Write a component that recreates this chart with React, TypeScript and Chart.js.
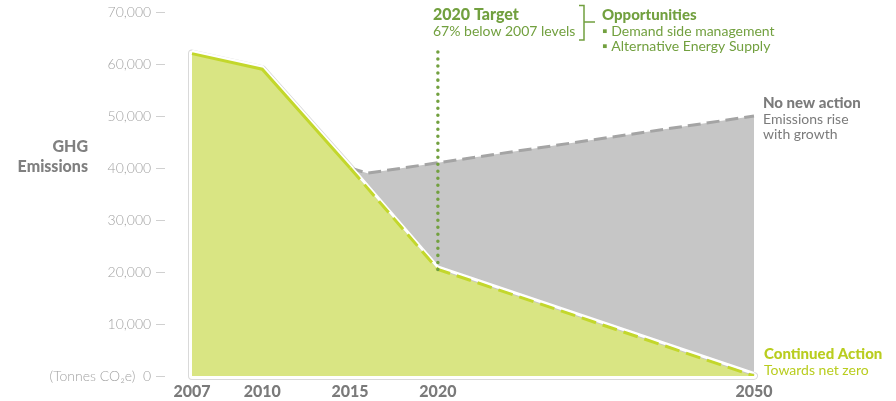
import React, { useEffect, useRef } from 'react';
import { Chart, registerables } from 'chart.js';

Chart.register(...registerables);

// x slots: key years with spacer slots between them (designer's uneven spacing)
const xSlots = [
  '2007', '', '', '',
  '2010', '', '', '', '',
  '2015', '', '', '', '',
  '2020', '', '', '', '', '', '', '', '', '', '', '', '', '', '', '', '', '',
  '2050',
];

// Continued Action (tonnes CO2e)
const continuedAction = [
  62000, null, null, null,
  59000, null, null, null, null,
  40000, null, null, null, null,
  20500, null, null, null, null, null, null, null, null, null, null, null, null, null, null, null, null, null,
  0,
];

// No new action (tonnes CO2e)
const noNewAction = [
  null, null, null, null,
  null, null, null, null, null,
  40000, 39000, null, null, null,
  41000, null, null, null, null, null, null, null, null, null, null, null, null, null, null, null, null, null,
  50000,
];

// 2020 target marker (dotted vertical line)
const targetMarker = [
  { x: '2020', y: 20500 },
  { x: '2020', y: 63000 },
];

const yMin = 0;
const yMax = 70000;
const yStep = 10000;

const FONT = 'Lato, "Open Sans", "DejaVu Sans", sans-serif';
const OLIVE = '#72a03f';
const LIME = '#b9cd1f';
const GREEN_LINE = '#c3d72c';
const GREEN_FILL = '#d9e583';
const GRAY_FILL = '#c6c6c6';
const GRAY_LINE = '#a4a4a4';

const outlinePlugin = {
  id: 'greenOutline',
  beforeDatasetsDraw(chart: any) {
    const meta = chart.getDatasetMeta(3);
    const pts = meta.data.filter((p: any) => !p.skip);
    if (!pts.length) return;
    const y0 = chart.scales.y.getPixelForValue(0);
    const ctx = chart.ctx;
    ctx.save();
    ctx.beginPath();
    ctx.moveTo(pts[0].x, y0);
    pts.forEach((p: any) => ctx.lineTo(p.x, p.y));
    ctx.lineTo(pts[pts.length - 1].x, y0);
    ctx.closePath();
    ctx.lineJoin = 'round';
    ctx.strokeStyle = '#d9d9d9';
    ctx.lineWidth = 8;
    ctx.stroke();
    ctx.strokeStyle = '#ffffff';
    ctx.lineWidth = 6;
    ctx.stroke();
    ctx.restore();
  },
};

const offsetPlugin = {
  id: 'whiteOffset',
  beforeDatasetDraw(chart: any, args: any) {
    if (args.index === 2) {
      chart.ctx.save();
      chart.ctx.translate(0, -2.5);
    }
  },
  afterDatasetDraw(chart: any, args: any) {
    if (args.index === 2) {
      chart.ctx.restore();
    }
  },
};

const annotationPlugin = {
  id: 'annotations',
  afterDraw(chart: any) {
    const ctx = chart.ctx;
    ctx.save();
    ctx.textBaseline = 'middle';
    ctx.textAlign = 'left';

    // 2020 target
    ctx.fillStyle = OLIVE;
    ctx.font = `900 16px ${FONT}`;
    ctx.fillText('2020 Target', 433, 15);
    ctx.font = `400 14px ${FONT}`;
    ctx.fillText('67% below 2007 levels', 433, 31);

    // bracket
    ctx.strokeStyle = OLIVE;
    ctx.lineWidth = 1.5;
    ctx.beginPath();
    ctx.moveTo(579, 5.5);
    ctx.lineTo(584, 5.5);
    ctx.lineTo(584, 40);
    ctx.lineTo(579, 40);
    ctx.moveTo(584, 22);
    ctx.lineTo(595, 22);
    ctx.stroke();

    ctx.font = `900 15px ${FONT}`;
    ctx.fillText('Opportunities', 602, 15);
    ctx.font = `400 14px ${FONT}`;
    ctx.fillText('\u25AA Demand side management', 602, 31);
    ctx.fillText('\u25AA Alternative Energy Supply', 602, 46);

    // No new action
    ctx.fillStyle = '#7b7b7b';
    ctx.font = `900 15px ${FONT}`;
    ctx.fillText('No new action', 763, 103);
    ctx.font = `400 14px ${FONT}`;
    ctx.fillText('Emissions rise', 763, 119);
    ctx.fillText('with growth', 763, 134);

    // Continued action
    ctx.fillStyle = LIME;
    ctx.font = `900 15px ${FONT}`;
    ctx.fillText('Continued Action', 764, 354);
    ctx.font = `400 14px ${FONT}`;
    ctx.fillText('Towards net zero', 764, 370);

    // Y axis title
    ctx.fillStyle = '#808080';
    ctx.textAlign = 'right';
    ctx.font = `900 16px ${FONT}`;
    ctx.fillText('GHG', 88, 147);
    ctx.fillText('Emissions', 88, 167);

    ctx.restore();
  },
};

export default function App() {
  const ref = useRef<HTMLCanvasElement | null>(null);

  useEffect(() => {
    if (!ref.current) return;
    const chart = new Chart(ref.current, {
      type: 'line',
      data: {
        labels: xSlots,
        datasets: [
          {
            label: '2020 Target',
            data: targetMarker as any,
            borderColor: OLIVE,
            borderWidth: 3.5,
            borderDash: [0.01, 7],
            borderCapStyle: 'round',
            pointRadius: 0,
            fill: false,
          },
          {
            label: 'Continued Action line',
            data: continuedAction,
            borderColor: GREEN_LINE,
            borderWidth: 3,
            pointRadius: 0,
            spanGaps: true,
            fill: false,
            segment: {
              borderDash: (c: any) => (c.p0DataIndex >= 9 ? [15, 7] : undefined),
            },
          },
          {
            label: 'edge',
            data: continuedAction,
            borderColor: '#ffffff',
            borderWidth: 3,
            pointRadius: 0,
            spanGaps: true,
            fill: false,
          },
          {
            label: 'Continued Action',
            data: continuedAction,
            borderWidth: 0,
            borderColor: 'rgba(0,0,0,0)',
            backgroundColor: GREEN_FILL,
            pointRadius: 0,
            spanGaps: true,
            fill: 'origin',
          },
          {
            label: 'No new action',
            data: noNewAction,
            borderColor: GRAY_LINE,
            borderWidth: 3,
            borderDash: [13, 6],
            backgroundColor: GRAY_FILL,
            pointRadius: 0,
            spanGaps: true,
            fill: 'origin',
          },
        ],
      },
      options: {
        animation: false,
        responsive: true,
        maintainAspectRatio: false,
        layout: { autoPadding: false, padding: { top: 12, right: 142, bottom: 0, left: 0 } },
        plugins: {
          legend: { display: false },
          tooltip: { enabled: false },
        },
        scales: {
          x: {
            type: 'category',
            offset: false,
            grid: {
              display: true,
              drawOnChartArea: false,
              drawTicks: true,
              tickLength: 6,
              color: 'rgba(0,0,0,0)',
            },
            border: { display: false },
            ticks: {
              autoSkip: false,
              maxRotation: 0,
              padding: 0,
              color: '#7a7a7a',
              font: { family: FONT, size: 16, weight: '900' as any },
              callback: (_v: any, i: number) => xSlots[i],
            },
            afterFit: (s: any) => {
              s.height = 25;
            },
          },
          y: {
            min: yMin,
            max: yMax,
            grid: {
              display: true,
              drawOnChartArea: false,
              drawTicks: true,
              tickLength: 26,
              color: 'rgba(0,0,0,0)',
            },
            border: { display: false },
            ticks: {
              stepSize: yStep,
              padding: 0,
              color: '#a3a3a3',
              font: { family: FONT, size: 14, weight: '300' as any },
              callback: (v: any) =>
                v === 0
                  ? '(Tonnes CO\u2082e)  0 \u2014'
                  : Number(v).toLocaleString('en-US') + ' \u2014',
            },
            afterFit: (s: any) => {
              s.width = 192;
            },
          },
        },
      },
      plugins: [outlinePlugin, offsetPlugin, annotationPlugin],
    });
    return () => chart.destroy();
  }, []);

  return (
    <div style={{ position: 'fixed', left: 0, top: 0, width: 896, height: 401 }}>
      <canvas ref={ref} />
    </div>
  );
}
